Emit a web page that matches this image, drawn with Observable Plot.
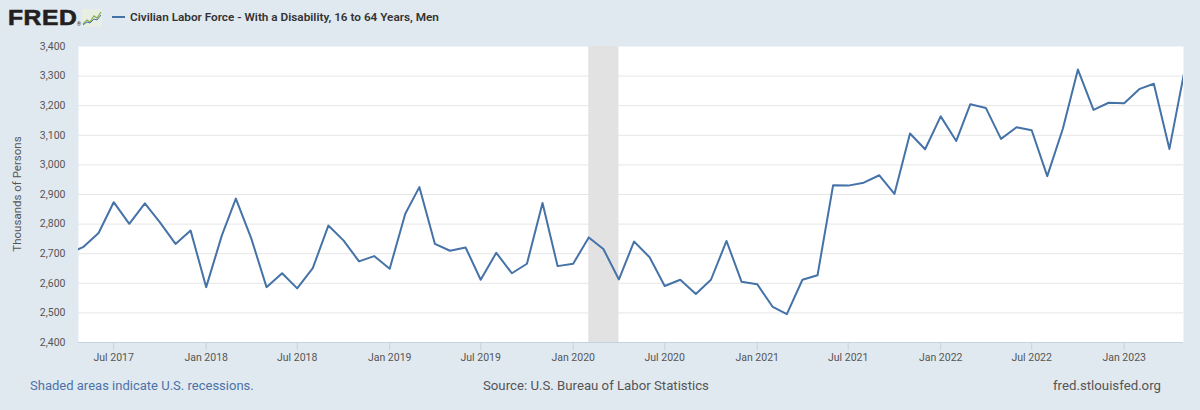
<!DOCTYPE html>
<html>
<head>
<meta charset="utf-8">
<script src="https://cdn.jsdelivr.net/npm/d3@7"></script>
<script src="https://cdn.jsdelivr.net/npm/@observablehq/plot@0.6"></script>
<style>
  html, body { margin: 0; padding: 0; background: #e1e9f0; }
  #wrap { position: relative; width: 1200px; height: 410px; background: #e1e9f0; overflow: hidden; font-family: Roboto, "Open Sans", sans-serif; }
  #logo { position: absolute; left: 8px; top: 6px; font-family: "Liberation Sans", Arial, sans-serif; font-weight: bold; font-size: 22px; line-height: 24px; color: #231f20; letter-spacing: 0.5px; transform-origin: left center; transform: scaleX(1.12); -webkit-text-stroke: 0.6px #231f20; }
  #reg { position: absolute; left: 77px; top: 21px; font-size: 5px; color: #231f20; }
  #icon { position: absolute; left: 82px; top: 9px; }
  #legend { position: absolute; left: 112px; top: 7px; height: 20px; display: flex; align-items: center; white-space: nowrap; }
  #swatch { display: inline-block; width: 13px; height: 2px; background: #4572a7; margin-right: 5px; }
  #title { font-weight: 600; color: #333; font-size: 12px; white-space: nowrap; }
  #ylabel { position: absolute; left: 17px; top: 194px; transform: translate(-50%, -50%) rotate(-90deg); white-space: nowrap; font-size: 11.5px; color: #555; }
  #chart { position: absolute; left: 0; top: 30px; }
  .foot { position: absolute; top: 376px; height: 20px; line-height: 20px; white-space: nowrap; font-size: 14px; }
  #f1 { left: 30px; color: #4a72a8; }
  #f2 { left: 483px; color: #555; }
  #f3 { left: 1053px; color: #555; }
</style>
</head>
<body>
<div id="wrap">
  <div id="logo">FRED</div>
  <div id="reg">®</div>
  <svg id="icon" width="20" height="18" viewBox="0 0 20 18">
    <rect x="0" y="0" width="20" height="18" fill="#e9eee4"/>
    <polyline points="1,15 5,11 8,13 12,7 15,9 19,3" fill="none" stroke="#8db04e" stroke-width="1.3"/>
    <polyline points="1,16 5,13 8,14 12,10 15,11 19,6" fill="none" stroke="#4572a7" stroke-width="1"/>
  </svg>
  <div id="legend"><span id="swatch"></span><span id="title">Civilian Labor Force - With a Disability, 16 to 64 Years, Men</span></div>
  <div id="ylabel">Thousands of Persons</div>
  <div id="chart"></div>
  <div class="foot" id="f1">Shaded areas indicate U.S. recessions.</div>
  <div class="foot" id="f2">Source: U.S. Bureau of Labor Statistics</div>
  <div class="foot" id="f3">fred.stlouisfed.org</div>
</div>
<script>
// ---- data (thousands of persons, monthly) ----
const firstMonth = "2017-04-01";
const values = [
  2700, 2722, 2770, 2874, 2801, 2870, 2806, 2733, 2778,          // Apr–Dec 2017
  2587, 2761, 2886, 2750, 2587, 2634, 2583, 2651, 2795, 2745, 2674, 2692, // 2018
  2649, 2835, 2925, 2733, 2710, 2721, 2612, 2703, 2634, 2666, 2871, 2658, // 2019
  2666, 2755, 2716, 2613, 2741, 2688, 2591, 2612, 2564, 2612, 2743, 2605, // 2020
  2597, 2520, 2496, 2612, 2627, 2931, 2930, 2940, 2965, 2902, 3106, 3053, // 2021
  3164, 3081, 3205, 3192, 3088, 3127, 3117, 2962, 3122, 3322, 3186, 3210, // 2022
  3208, 3257, 3274, 3054, 3318                                     // Jan–May 2023
];
const xTickDates = ["2017-07-01","2018-01-01","2018-07-01","2019-01-01","2019-07-01","2020-01-01",
                    "2020-07-01","2021-01-01","2021-07-01","2022-01-01","2022-07-01","2023-01-01"];
const yTicks = [2400, 2500, 2600, 2700, 2800, 2900, 3000, 3100, 3200, 3300, 3400];
const yGrid = [2500, 2600, 2700, 2800, 2900, 3000, 3100, 3200, 3300];
const recessions = [{start: "2020-02-01", end: "2020-04-01"}];
const xDomain = ["2017-04-22", "2023-04-29"];

// ---- build table ----
const months = d3.utcMonth.range(new Date(firstMonth), d3.utcMonth.offset(new Date(firstMonth), values.length));
const data = months.map((d, i) => ({date: d, value: values[i]}));
const xTicks = xTickDates.map(s => new Date(s));
const rec = recessions.map(r => ({start: new Date(r.start), end: new Date(r.end)}));

const chart = Plot.plot({
  width: 1200,
  height: 340,
  marginLeft: 78,
  marginRight: 17,
  marginTop: 16,
  marginBottom: 28,
  style: {fontFamily: "Roboto, sans-serif", fontSize: "10.5px", color: "#555", background: "transparent", overflow: "visible"},
  x: {type: "utc", domain: xDomain.map(s => new Date(s)), label: null},
  y: {domain: [2400, 3400], label: null},
  marks: [
    Plot.frame({fill: "white", stroke: null}),
    Plot.ruleY(yGrid, {stroke: "#e6e6e6", strokeWidth: 1}),
    Plot.rect(rec, {x1: "start", x2: "end", fill: "#e2e2e2"}),
    Plot.ruleY([2400], {stroke: "#c8d2dc", strokeWidth: 1}),
    Plot.line(data, {x: "date", y: "value", stroke: "#4572a7", strokeWidth: 2, clip: true}),
    Plot.axisX({ticks: xTicks, tickFormat: d3.utcFormat("%b %Y"), tickSize: 8, tickPadding: 3, stroke: "#c8d2dc", label: null}),
    Plot.axisY({ticks: yTicks, tickFormat: d3.format(","), tickSize: 0, tickPadding: 13, label: null})
  ]
});
document.getElementById("chart").appendChild(chart);

// fit text widths to the reference
function fit(id, target) {
  const el = document.getElementById(id);
  el.style.display = "inline-block";
  const fs = parseFloat(getComputedStyle(el).fontSize);
  const w = el.getBoundingClientRect().width;
  if (w > 0) el.style.fontSize = (fs * target / w).toFixed(2) + "px";
}
fit("title", 309);
fit("f1", 224);
fit("f2", 226);
fit("f3", 108);
</script>
</body>
</html>
